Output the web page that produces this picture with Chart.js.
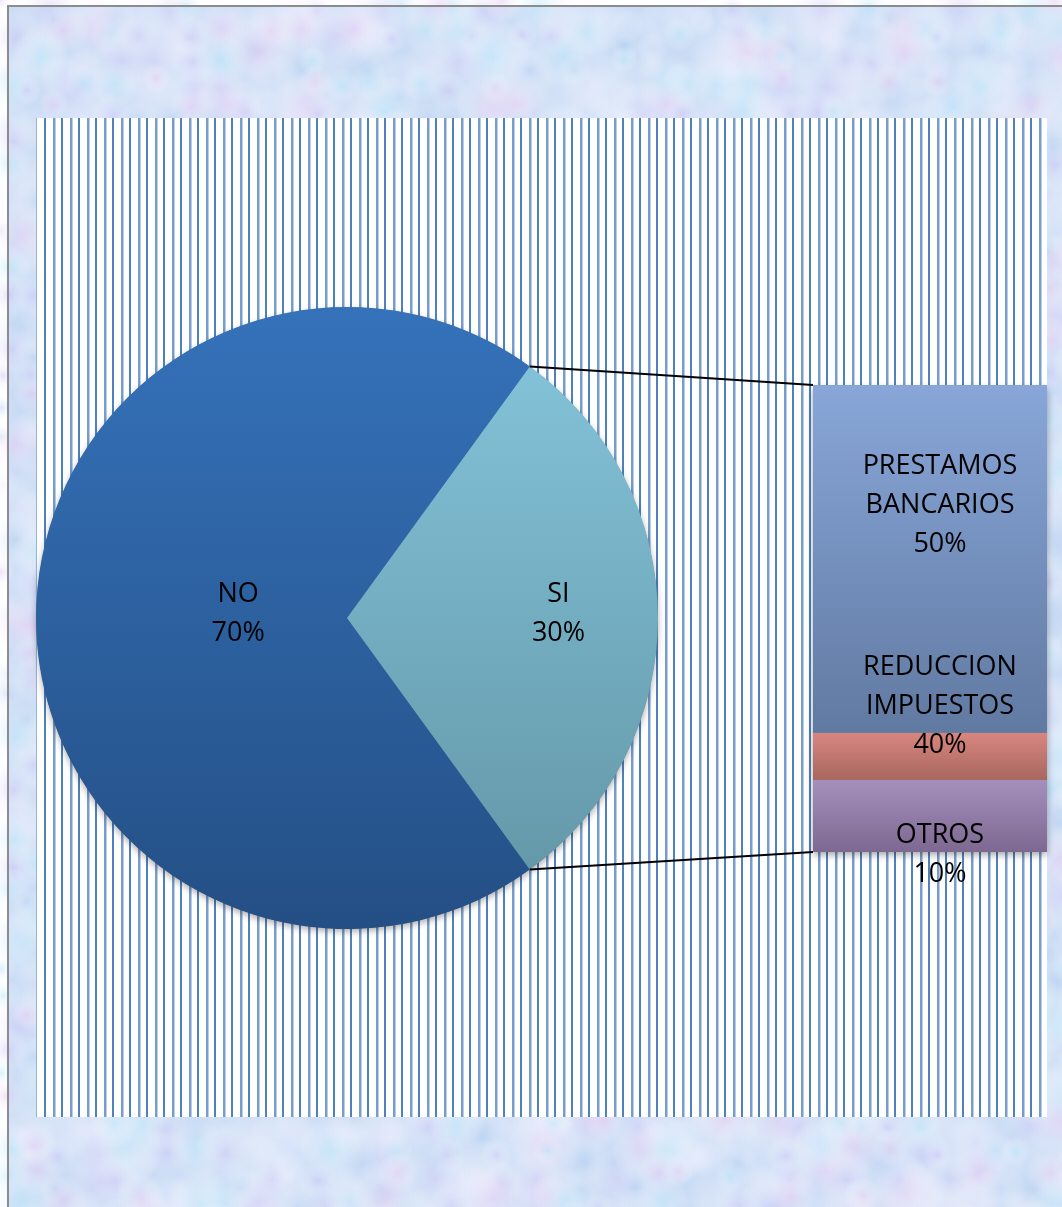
<!DOCTYPE html>
<html>
<head>
<meta charset="utf-8">
<script src="https://cdn.jsdelivr.net/npm/chart.js@4/dist/chart.umd.min.js"></script>
<style>
  html, body { margin: 0; padding: 0; background: #ffffff; }
  #wrap { position: relative; width: 1062px; height: 1207px; overflow: hidden; }
  #wrap canvas { position: absolute; left: 0; top: 0; }
</style>
</head>
<body>
<div id="wrap">
  <canvas id="pieCanvas" width="1062" height="1207"></canvas>
  <canvas id="barCanvas" width="1062" height="1207"></canvas>
</div>
<script>
// Main pie: answers
const pieCategories = ['NO', 'SI'];
const pieValues = [70, 30];

// Breakdown of "SI" shown in the stacked bar
const barCategories = [['PRESTAMOS', 'BANCARIOS'], ['REDUCCION', 'IMPUESTOS'], ['OTROS']];
const barValues = [50, 40, 10];

const W = 1062, H = 1207;
const FONT = '27px "Open Sans", "Liberation Sans", sans-serif';
const PLOT = { left: 36, top: 118, right: 1047, bottom: 1117 };

// Pastel marbled backdrop, bordered frame and striped plot area
function drawBackdrop(ctx) {
  ctx.save();
  ctx.fillStyle = '#ffffff';
  ctx.fillRect(0, 0, W, H);
  ctx.fillStyle = '#c9dbf5';
  ctx.fillRect(8, 6, W - 8, H - 6);
  const tints = ['rgba(232,200,242,0.5)', 'rgba(188,232,250,0.55)', 'rgba(204,198,246,0.5)',
                 'rgba(240,236,255,0.45)', 'rgba(168,200,238,0.4)', 'rgba(214,226,250,0.5)'];
  const step = 26;
  let n = 0;
  for (let gy = 0; gy < H + step; gy += step) {
    for (let gx = 0; gx < W + step; gx += step, n++) {
      const h1 = Math.sin(n * 12.9898 + gy * 0.0781) * 43758.5453;
      const h2 = Math.sin(n * 78.233 + gx * 0.0517) * 12345.6789;
      const f1 = h1 - Math.floor(h1), f2 = h2 - Math.floor(h2);
      const x = gx + f1 * step, y = gy + f2 * step;
      const r = 14 + f1 * 26;
      const g = ctx.createRadialGradient(x, y, 0, x, y, r);
      g.addColorStop(0, tints[Math.floor(f2 * tints.length) % tints.length]);
      g.addColorStop(1, 'rgba(255,255,255,0)');
      ctx.fillStyle = g;
      ctx.fillRect(x - r, y - r, 2 * r, 2 * r);
    }
  }
  // outer frame
  ctx.strokeStyle = '#8c8c8c';
  ctx.lineWidth = 2;
  ctx.beginPath();
  ctx.moveTo(8, H + 2);
  ctx.lineTo(8, 6);
  ctx.lineTo(W + 2, 6);
  ctx.stroke();
  // plot area
  ctx.fillStyle = '#ffffff';
  ctx.fillRect(PLOT.left, PLOT.top, PLOT.right - PLOT.left, PLOT.bottom - PLOT.top);
  ctx.fillStyle = 'rgba(79,129,189,0.6)';
  ctx.fillRect(PLOT.left, PLOT.top, 1, PLOT.bottom - PLOT.top);
  let k = 0;
  for (let x = PLOT.left + 8; x < PLOT.right - 1; x += 8.5, k++) {
    ctx.fillStyle = k % 2 === 0 ? '#4f81bd' : 'rgba(79,129,189,0.78)';
    ctx.fillRect(Math.round(x), PLOT.top, k % 2 === 0 ? 2 : 2.5, PLOT.bottom - PLOT.top);
  }
  ctx.restore();
}

const backdropPlugin = {
  id: 'backdrop',
  beforeDraw(chart) { drawBackdrop(chart.ctx); }
};

function withShadow(ctx, paint) {
  ctx.save();
  ctx.shadowColor = 'rgba(0,0,0,0.35)';
  ctx.shadowBlur = 7;
  ctx.shadowOffsetX = 0;
  ctx.shadowOffsetY = 3;
  paint();
  ctx.restore();
}

// one soft shadow under the whole pie, drawn before the slices
const pieShadowPlugin = {
  id: 'pieShadow',
  beforeDatasetsDraw(chart) {
    const arc = chart.getDatasetMeta(0).data[0];
    if (!arc) return;
    const ctx = chart.ctx;
    withShadow(ctx, () => {
      ctx.fillStyle = '#2b5f9e';
      ctx.beginPath();
      ctx.arc(arc.x, arc.y, arc.outerRadius - 0.5, 0, Math.PI * 2);
      ctx.fill();
    });
  }
};

function drawLines(ctx, lines, x, cy, lineH) {
  ctx.save();
  ctx.font = FONT;
  ctx.fillStyle = '#000000';
  ctx.textAlign = 'center';
  ctx.textBaseline = 'middle';
  const y0 = cy - (lines.length - 1) * lineH / 2;
  lines.forEach((t, i) => ctx.fillText(t, x, y0 + i * lineH));
  ctx.restore();
}

// radial position of each pie label, as a share of the radius
const pieLabelRadius = [0.35, 0.68];
const pieLabelPlugin = {
  id: 'pieLabels',
  afterDraw(chart) {
    const meta = chart.getDatasetMeta(0);
    const total = pieValues.reduce((a, b) => a + b, 0);
    meta.data.forEach((arc, i) => {
      const mid = (arc.startAngle + arc.endAngle) / 2;
      const rr = arc.outerRadius * pieLabelRadius[i];
      const pct = Math.round(pieValues[i] / total * 100) + '%';
      drawLines(chart.ctx, [pieCategories[i], pct], arc.x + Math.cos(mid) * rr,
                arc.y + Math.sin(mid) * rr - 4, 39);
    });
  }
};

// vertical gradient per slice: [top, bottom]
const pieShades = [['#3572ba', '#244f85'], ['#86c6dd', '#6194a4']];
function pieFill(c) {
  const shade = pieShades[c.dataIndex % pieShades.length];
  const a = c.chart.chartArea;
  if (!a || !isFinite(a.top) || !isFinite(a.bottom) || a.bottom <= a.top) return shade[0];
  const g = c.chart.ctx.createLinearGradient(0, a.top, 0, a.bottom);
  g.addColorStop(0, shade[0]);
  g.addColorStop(1, shade[1]);
  return g;
}

const pieChart = new Chart(document.getElementById('pieCanvas'), {
  type: 'pie',
  data: {
    labels: pieCategories,
    datasets: [{
      data: pieValues,
      backgroundColor: pieFill,
      borderWidth: 0
    }]
  },
  options: {
    responsive: false,
    animation: false,
    devicePixelRatio: 1,
    rotation: 144,
    layout: { padding: { left: 36, right: W - 658, top: 307, bottom: H - 929 } },
    plugins: { legend: { display: false }, tooltip: { enabled: false } }
  },
  plugins: [backdropPlugin, pieShadowPlugin, pieLabelPlugin]
});

// Stacked column: banded fill shared by the whole column
function barFill(c) {
  const chart = c.chart;
  const ys = chart.scales && chart.scales.y;
  if (!ys) return '#86a4d6';
  const t = ys.getPixelForValue(0), b = ys.getPixelForValue(100);
  if (!isFinite(t) || !isFinite(b) || t === b) return '#86a4d6';
  const g = chart.ctx.createLinearGradient(0, t, 0, b);
  g.addColorStop(0, '#88a6d8');
  g.addColorStop(0.744, '#617aa2');
  g.addColorStop(0.745, '#d8867f');
  g.addColorStop(0.845, '#a8675f');
  g.addColorStop(0.846, '#a590bd');
  g.addColorStop(1, '#7c6890');
  return g;
}

function columnBounds(chart) {
  const first = chart.getDatasetMeta(0).data[0];
  const last = chart.getDatasetMeta(barValues.length - 1).data[0];
  return {
    left: first.x - first.width / 2,
    right: first.x + first.width / 2,
    top: Math.min(first.y, first.base),
    bottom: Math.max(last.y, last.base)
  };
}

// one soft shadow under the whole column
const barShadowPlugin = {
  id: 'barShadow',
  beforeDatasetsDraw(chart) {
    const b = columnBounds(chart);
    const ctx = chart.ctx;
    withShadow(ctx, () => {
      ctx.fillStyle = '#7c6890';
      ctx.fillRect(b.left, b.top + 1, b.right - b.left, b.bottom - b.top - 1);
    });
  }
};

// label offsets relative to each segment centre
const barLabelShift = [[10, 4], [10, -6], [10, 26]];
const connectorPlugin = {
  id: 'connectors',
  afterDraw(chart) {
    const ctx = chart.ctx;
    const si = pieChart.getDatasetMeta(0).data[1];
    const R = si.outerRadius;
    const p1 = [si.x + Math.cos(si.startAngle) * R, si.y + Math.sin(si.startAngle) * R];
    const p2 = [si.x + Math.cos(si.endAngle) * R, si.y + Math.sin(si.endAngle) * R];
    const b = columnBounds(chart);
    ctx.save();
    ctx.strokeStyle = '#000000';
    ctx.lineWidth = 2;
    ctx.beginPath();
    ctx.moveTo(p1[0], p1[1]); ctx.lineTo(b.left, b.top);
    ctx.moveTo(p2[0], p2[1]); ctx.lineTo(b.left, b.bottom);
    ctx.stroke();
    ctx.restore();
    const total = barValues.reduce((a, c) => a + c, 0);
    barValues.forEach((v, i) => {
      const el = chart.getDatasetMeta(i).data[0];
      const cy = (el.y + el.base) / 2;
      const pct = Math.round(v / total * 100) + '%';
      drawLines(ctx, [...barCategories[i], pct], el.x + barLabelShift[i][0],
                cy + barLabelShift[i][1], 39);
    });
  }
};

new Chart(document.getElementById('barCanvas'), {
  type: 'bar',
  data: {
    labels: ['SI'],
    datasets: barCategories.map((c, i) => ({
      label: c.join(' '),
      data: [barValues[i]],
      backgroundColor: barFill,
      borderWidth: 0,
      borderSkipped: false,
      barPercentage: 1,
      categoryPercentage: 1
    }))
  },
  options: {
    responsive: false,
    animation: false,
    devicePixelRatio: 1,
    layout: { padding: { left: 813, right: W - 1047, top: 385, bottom: H - 852 } },
    scales: {
      x: { stacked: true, display: false },
      y: { stacked: true, display: false, min: 0, max: 100, reverse: true }
    },
    plugins: { legend: { display: false }, tooltip: { enabled: false } }
  },
  plugins: [barShadowPlugin, connectorPlugin]
});
</script>
</body>
</html>
